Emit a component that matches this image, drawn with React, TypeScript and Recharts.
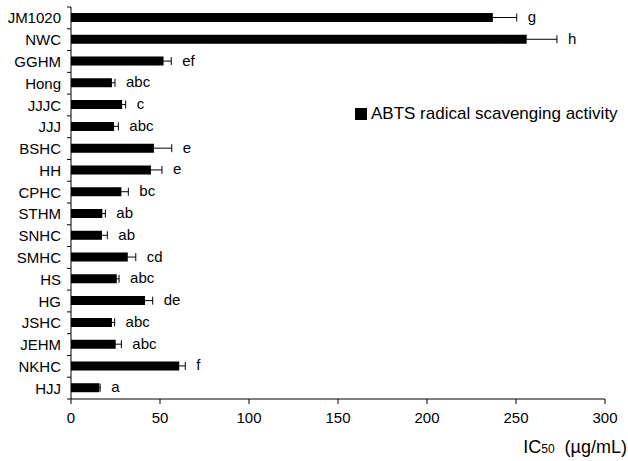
import React from "react";
import {
  BarChart,
  Bar,
  XAxis,
  YAxis,
  ErrorBar,
  LabelList,
} from "recharts";

const categories = [
  "JM1020", "NWC", "GGHM", "Hong", "JJJC", "JJJ", "BSHC", "HH", "CPHC",
  "STHM", "SNHC", "SMHC", "HS", "HG", "JSHC", "JEHM", "NKHC", "HJJ",
];
const ic50 = [
  237, 256, 52, 23, 28.7, 24.2, 46.6, 44.9, 28.3,
  17.6, 17.4, 31.9, 25.7, 41.6, 23, 25.1, 60.8, 15.9,
];
const stdDev = [
  13.4, 17, 4.3, 1.7, 2, 2.4, 10, 6.2, 3.9,
  1.7, 3, 4.5, 1.3, 4.3, 1.5, 3.2, 3.4, 0.5,
];
const letters = [
  "g", "h", "ef", "abc", "c", "abc", "e", "e", "bc",
  "ab", "ab", "cd", "abc", "de", "abc", "abc", "f", "a",
];
const xTicks = [0, 50, 100, 150, 200, 250, 300];
const seriesName = "ABTS radical scavenging activity";

const data = categories.map((name, i) => ({
  name,
  value: ic50[i],
  err: stdDev[i],
  letter: letters[i],
}));

const FONT = "'Liberation Sans', Arial, sans-serif";
const W = 628;
const H = 461;
const TOP = 7;
const BOTTOM = 62;
const band = (H - TOP - BOTTOM) / categories.length;

function CategoryTick(props: any) {
  const { x, y, payload, index } = props;
  const axisX = x + 8;
  const last = index === categories.length - 1;
  return (
    <g>
      <line x1={axisX - 4} x2={axisX} y1={y - band / 2} y2={y - band / 2} stroke="#000" />
      {last && (
        <line x1={axisX - 4} x2={axisX} y1={y + band / 2} y2={y + band / 2} stroke="#000" />
      )}
      <text
        x={axisX - 10}
        y={y}
        textAnchor="end"
        dominantBaseline="central"
        fontSize={15}
        fontFamily={FONT}
        fill="#000"
      >
        {payload.value}
      </text>
    </g>
  );
}

function LetterLabel(props: any) {
  const { x, y, width, height, index, value } = props;
  const v = ic50[index];
  const errPx = v ? (stdDev[index] * width) / v : 0;
  return (
    <text
      x={x + width + errPx + 11}
      y={y + height / 2 - 1}
      dominantBaseline="central"
      fontSize={15}
      fontFamily={FONT}
      fill="#000"
    >
      {value}
    </text>
  );
}

export default function App() {
  return (
    <div style={{ position: "absolute", left: 0, top: 0, width: W, height: H, background: "#fff" }}>
      <BarChart
        width={W}
        height={H}
        data={data}
        layout="vertical"
        margin={{ top: TOP, right: 23, bottom: BOTTOM - 30, left: 0 }}
        barSize={9}
      >
        <XAxis
          type="number"
          domain={[0, 300]}
          ticks={xTicks}
          interval={0}
          axisLine={{ stroke: "#000" }}
          tickLine={{ stroke: "#000" }}
          tickSize={5}
          tick={{ fill: "#000", fontSize: 15, fontFamily: FONT, dy: 6 }}
          height={30}
        />
        <YAxis
          type="category"
          dataKey="name"
          width={71}
          axisLine={{ stroke: "#000" }}
          tickLine={false}
          tickSize={0}
          tickMargin={8}
          interval={0}
          tick={<CategoryTick />}
        />
        <Bar dataKey="value" name={seriesName} fill="#000" isAnimationActive={false}>
          <ErrorBar dataKey="err" direction="x" width={4} stroke="#000" strokeWidth={1} />
          <LabelList dataKey="letter" content={<LetterLabel />} />
        </Bar>
      </BarChart>
      <div
        style={{
          position: "absolute",
          left: 355,
          top: 104,
          display: "flex",
          alignItems: "center",
          fontFamily: FONT,
          fontSize: 17,
          color: "#000",
          whiteSpace: "nowrap",
        }}
      >
        <span style={{ display: "inline-block", width: 12, height: 12, background: "#000", marginRight: 4 }} />
        <span>{seriesName}</span>
      </div>
      <div
        style={{
          position: "absolute",
          right: 1,
          top: 437,
          fontFamily: FONT,
          fontSize: 18,
          color: "#000",
          whiteSpace: "pre",
        }}
      >
        IC<span style={{ fontSize: 12 }}>50</span>{"  "}(µg/mL)
      </div>
    </div>
  );
}
